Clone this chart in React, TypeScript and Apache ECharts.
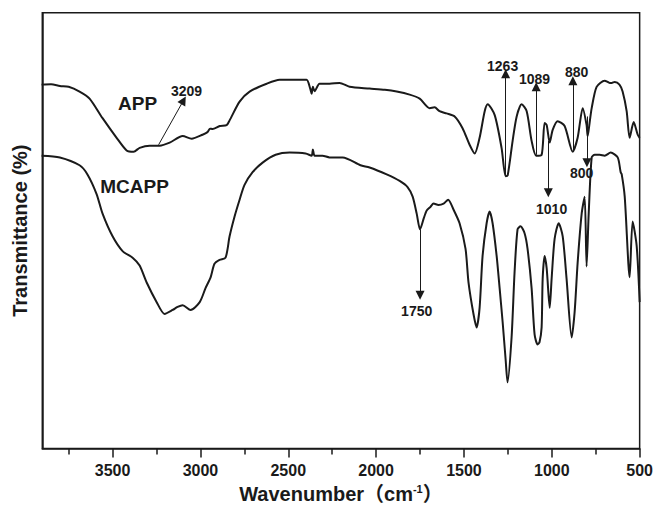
import React, { useEffect, useRef } from "react";
import * as echarts from "echarts";

// [wavenumber (cm-1), transmittance (a.u., 0-100 of plot height)]
const appSpectrum: number[][] = [
  [3904, 83.5], [3850, 83.6], [3800, 83.2], [3750, 83.0], [3688, 81.9], [3631, 80.3],
  [3557, 75.8], [3477, 71.3], [3420, 68.4], [3380, 68.1], [3346, 69.0], [3289, 69.5],
  [3232, 69.5], [3175, 70.2], [3101, 71.7], [3050, 71.1], [2988, 72.0], [2960, 72.6],
  [2945, 73.4], [2931, 73.3], [2890, 74.0], [2851, 74.2], [2834, 75.3], [2777, 79.6],
  [2720, 81.9], [2623, 83.7], [2549, 84.6], [2450, 84.6], [2396, 84.6], [2375, 82.6],
  [2367, 81.4], [2360, 83.0], [2350, 82.0], [2322, 83.7], [2265, 83.7], [2208, 83.9],
  [2151, 83.0], [2037, 82.6], [1950, 82.3], [1883, 81.9], [1809, 81.2], [1752, 80.3],
  [1695, 78.1], [1667, 78.3], [1639, 77.4], [1599, 76.9], [1553, 76.2], [1508, 73.5],
  [1468, 69.7], [1439, 67.7], [1411, 71.3], [1382, 77.4], [1365, 79.0], [1325, 76.5],
  [1286, 69.0], [1263, 62.5], [1251, 62.7], [1223, 70.6], [1200, 76.2], [1172, 79.0],
  [1143, 77.4], [1115, 70.6], [1089, 67.2], [1058, 67.4], [1041, 74.7], [1029, 74.2],
  [1012, 70.2], [995, 73.1], [967, 75.1], [927, 74.0], [881, 68.1], [853, 71.3],
  [824, 78.1], [802, 74.2], [796, 71.7], [785, 74.7], [773, 78.1], [745, 83.0],
  [699, 84.4], [670, 83.9], [659, 83.9], [642, 84.1], [615, 83.5], [597, 81.9],
  [574, 77.4], [557, 71.3], [534, 74.9], [511, 72.0], [500, 71.3],
];

const mcappSpectrum: number[][] = [
  [3904, 67.2], [3800, 66.8], [3688, 65.0], [3643, 62.9], [3591, 58.4], [3557, 53.9],
  [3500, 48.7], [3443, 45.3], [3386, 43.8], [3346, 42.0], [3306, 38.1], [3249, 33.6],
  [3204, 30.9], [3158, 31.8], [3130, 32.5], [3101, 32.9], [3056, 31.8], [3004, 33.6],
  [2971, 36.8], [2942, 39.3], [2920, 42.4], [2891, 43.3], [2857, 43.8], [2834, 48.7],
  [2806, 53.2], [2777, 57.1], [2749, 60.5], [2703, 63.4], [2646, 65.6], [2572, 67.4],
  [2492, 67.9], [2401, 67.7], [2367, 67.2], [2360, 68.6], [2350, 67.2], [2305, 67.2],
  [2265, 66.8], [2190, 66.8], [2089, 65.0], [2037, 64.5], [1940, 62.9], [1866, 61.4],
  [1821, 60.0], [1792, 57.8], [1769, 53.9], [1750, 50.3], [1729, 52.8], [1712, 54.6],
  [1690, 55.5], [1673, 56.2], [1645, 55.9], [1616, 56.2], [1590, 57.1], [1559, 54.8],
  [1525, 51.7], [1491, 45.8], [1474, 38.1], [1445, 30.7], [1428, 27.8], [1411, 32.3],
  [1394, 44.2], [1371, 51.7], [1354, 54.4], [1337, 51.7], [1314, 44.2], [1297, 36.8],
  [1280, 29.1], [1263, 20.5], [1252, 15.2], [1229, 25.5], [1212, 40.4], [1195, 50.3],
  [1178, 51.0], [1155, 49.4], [1138, 45.8], [1115, 36.8], [1098, 26.2], [1081, 23.9],
  [1070, 24.4], [1058, 27.8], [1052, 39.0], [1041, 44.2], [1029, 41.3], [1012, 32.3],
  [1001, 39.0], [984, 48.1], [961, 51.7], [938, 48.7], [916, 39.0], [887, 25.5],
  [870, 31.4], [853, 42.6], [830, 53.9], [813, 57.8], [802, 41.8], [790, 53.9],
  [773, 66.8], [756, 67.4], [728, 67.4], [699, 67.2], [665, 67.9], [625, 66.8],
  [608, 63.4], [602, 62.9], [585, 57.8], [557, 39.3], [540, 52.1], [517, 46.5],
  [500, 33.6],
];

const majorTicks = [500, 1000, 1500, 2000, 2500, 3000, 3500];
const minorTicks = [750, 1250, 1750, 2250, 2750, 3250, 3750];

// arrows: [fromWavenumber, fromT, toWavenumber, toT]
const peakArrows: number[][] = [
  [3238, 69.7, 3096, 79.9],
  [1263, 62.7, 1263, 86.0],
  [1089, 67.4, 1089, 83.0],
  [880, 68.4, 880, 84.4],
  [1020, 70.6, 1020, 58.7],
  [800, 76.2, 800, 65.6],
  [1750, 50.3, 1750, 35.2],
];

const peakLabelText = ["3209", "1263", "1089", "880", "1010", "800", "1750"];
const peakLabelPos: number[][] = [
  [3079, 82.1], [1280, 87.8], [1098, 84.8], [859, 86.4], [1001, 55.0], [830, 63.2], [1769, 31.6],
];

const sampleNames = ["APP", "MCAPP"];
const sampleNamePos: number[][] = [[3358, 79.2], [3375, 60.2]];

const INK = "#1a1a1a";
const FONT = "'Liberation Sans', Arial, 'Noto Sans CJK SC', sans-serif";

export default function App() {
  const ref = useRef<HTMLDivElement>(null);
  useEffect(() => {
    if (!ref.current) return;
    const chart = echarts.init(ref.current, null, { renderer: "svg" });
    const labelData = [
      ...peakLabelText.map((t, i) => ({
        name: t,
        value: peakLabelPos[i],
        label: { fontSize: 14 },
      })),
      ...sampleNames.map((t, i) => ({
        name: t,
        value: sampleNamePos[i],
        label: { fontSize: 19 },
      })),
    ];
    chart.setOption({
      animation: false,
      grid: {
        left: 42.3,
        right: 16,
        top: 12.7,
        bottom: 53,
        show: true,
        borderColor: INK,
        borderWidth: 1.5,
        backgroundColor: "transparent",
      },
      xAxis: [
        {
          type: "value",
          min: 500,
          max: 3900,
          inverse: true,
          position: "bottom",
          axisLine: { show: true, lineStyle: { color: INK, width: 1.5 } },
          axisTick: {
            show: true,
            inside: false,
            length: 9,
            customValues: majorTicks,
            lineStyle: { color: INK, width: 1.5 },
          },
          axisLabel: {
            customValues: majorTicks,
            formatter: (v: number) => String(v),
            margin: 14,
            fontSize: 16,
            fontWeight: "bold",
            color: INK,
            fontFamily: FONT,
          },
          splitLine: { show: false },
          name: "Wavenumber（cm{sup|-1}）",
          nameLocation: "middle",
          nameGap: 30,
          nameTextStyle: {
            fontSize: 20,
            fontWeight: "bold",
            color: INK,
            fontFamily: FONT,
            rich: {
              sup: {
                fontSize: 11,
                fontWeight: "bold",
                color: INK,
                fontFamily: FONT,
                padding: [0, 0, 10, 0],
              },
            },
          },
        },
        {
          type: "value",
          min: 500,
          max: 3900,
          inverse: true,
          position: "bottom",
          axisLine: { show: false },
          axisTick: {
            show: true,
            inside: false,
            length: 6,
            customValues: minorTicks,
            lineStyle: { color: INK, width: 1.5 },
          },
          axisLabel: { show: false },
          splitLine: { show: false },
        },
      ],
      yAxis: {
        type: "value",
        min: 0,
        max: 100,
        axisLine: { show: true, lineStyle: { color: INK, width: 1.5 } },
        axisTick: { show: false },
        axisLabel: { show: false },
        splitLine: { show: false },
        name: "Transmittance (%)",
        nameLocation: "middle",
        nameGap: 12,
        nameTextStyle: {
          fontSize: 20,
          fontWeight: "bold",
          color: INK,
          fontFamily: FONT,
        },
      },
      series: [
        {
          type: "line",
          name: "APP",
          data: appSpectrum,
          showSymbol: false,
          symbol: "none",
          smooth: 0.25,
          lineStyle: { color: INK, width: 2 },
        },
        {
          type: "line",
          name: "MCAPP",
          data: mcappSpectrum,
          showSymbol: false,
          symbol: "none",
          smooth: 0.25,
          lineStyle: { color: INK, width: 2 },
        },
        {
          type: "lines",
          coordinateSystem: "cartesian2d",
          symbol: ["none", "triangle"],
          symbolSize: 9,
          lineStyle: { color: INK, width: 1, opacity: 1 },
          itemStyle: { color: INK },
          data: peakArrows.map((a) => ({ coords: [[a[0], a[1]], [a[2], a[3]]] })),
        },
        {
          type: "scatter",
          symbolSize: 1,
          itemStyle: { color: "rgba(0,0,0,0)" },
          label: {
            show: true,
            position: "inside",
            formatter: "{b}",
            fontWeight: "bold",
            color: INK,
            opacity: 1,
            textBorderWidth: 0,
            textBorderColor: "transparent",
            fontFamily: FONT,
          },
          emphasis: { disabled: true },
          data: labelData,
        },
      ],
    });
    return () => chart.dispose();
  }, []);
  return (
    <div
      ref={ref}
      style={{ position: "absolute", left: 0, top: 0, width: 656, height: 509 }}
    />
  );
}
